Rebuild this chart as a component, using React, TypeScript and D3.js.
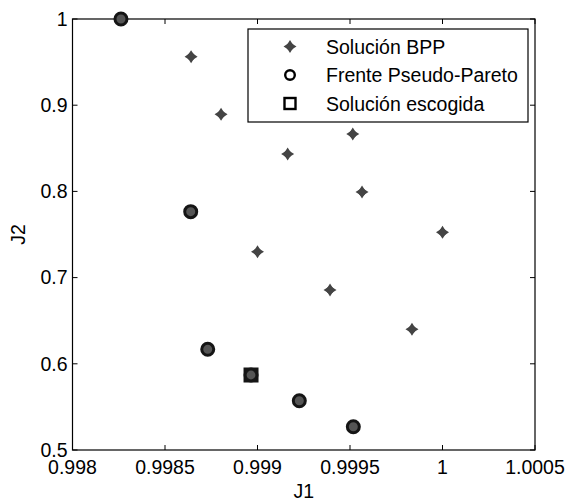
import React from "react";
import * as d3 from "d3";

// Soluciones BPP (J1, J2)
const bppJ1 = [0.998641, 0.998803, 0.999163, 0.999515, 0.999565, 1.0, 0.999, 0.999392, 0.999835];
const bppJ2 = [0.9563, 0.8894, 0.8434, 0.8666, 0.7993, 0.7525, 0.73, 0.6856, 0.64];

// Frente Pseudo-Pareto (J1, J2)
const paretoJ1 = [0.998262, 0.998639, 0.998731, 0.998965, 0.999226, 0.999518];
const paretoJ2 = [1.0, 0.7765, 0.6168, 0.587, 0.5572, 0.527];

// Solución escogida
const chosenJ1 = [0.998965];
const chosenJ2 = [0.587];

const xTicks = [0.998, 0.9985, 0.999, 0.9995, 1, 1.0005];
const yTicks = [0.5, 0.6, 0.7, 0.8, 0.9, 1];
const legendLabels = ["Solución BPP", "Frente Pseudo-Pareto", "Solución escogida"];

const W = 570;
const H = 501;
const M = { left: 72.5, right: 535, top: 19, bottom: 450 };
const FONT = "'Liberation Sans', Arial, sans-serif";
const FS = 19.5;

const x = d3.scaleLinear().domain([0.998, 1.0005]).range([M.left, M.right]);
const y = d3.scaleLinear().domain([0.5, 1]).range([M.bottom, M.top]);

const fmt = (v: number) => String(+v.toFixed(4));

// four-pointed star used for the BPP solutions
const starPath = (() => {
  const ro = 6.5;
  const ri = 3.6;
  const pts: [number, number][] = [];
  for (let i = 0; i < 8; i++) {
    const a = (Math.PI / 4) * i - Math.PI / 2;
    const r = i % 2 === 0 ? ro : ri;
    pts.push([r * Math.cos(a), r * Math.sin(a)]);
  }
  return d3.line()(pts) + "Z";
})();

const Star = ({ cx, cy }: { cx: number; cy: number }) => (
  <g transform={`translate(${cx},${cy})`}>
    <path d={starPath} fill="#444" />
    <circle r={3.6} fill="#444" />
  </g>
);

export default function App() {
  const bpp = bppJ1.map((v, i) => [v, bppJ2[i]]);
  const pareto = paretoJ1.map((v, i) => [v, paretoJ2[i]]);
  const chosen = chosenJ1.map((v, i) => [v, chosenJ2[i]]);
  const tl = 5;

  const lg = { x0: 248, y0: 29, x1: 528, y1: 122 };
  const rowY = [46.5, 75, 103.5];
  const mx = 290;
  const tx = 326;

  return (
    <svg
      width={W}
      height={H}
      style={{ position: "absolute", left: 0, top: 0, background: "#fff" }}
      fontFamily={FONT}
    >
      <rect x={0} y={0} width={W} height={H} fill="#fff" />

      {/* axes box */}
      <rect
        x={M.left}
        y={M.top}
        width={M.right - M.left}
        height={M.bottom - M.top}
        fill="none"
        stroke="#000"
        strokeWidth={1.2}
      />

      {/* x ticks (bottom and top, inward) */}
      {xTicks.map((t) => (
        <g key={"xt" + t}>
          <line x1={x(t)} x2={x(t)} y1={M.bottom} y2={M.bottom - tl} stroke="#000" />
          <line x1={x(t)} x2={x(t)} y1={M.top} y2={M.top + tl} stroke="#000" />
          <text x={x(t)} y={473.5} textAnchor="middle" fontSize={FS} fill="#000">
            {fmt(t)}
          </text>
        </g>
      ))}

      {/* y ticks (left and right, inward) */}
      {yTicks.map((t) => (
        <g key={"yt" + t}>
          <line x1={M.left} x2={M.left + tl} y1={y(t)} y2={y(t)} stroke="#000" />
          <line x1={M.right} x2={M.right - tl} y1={y(t)} y2={y(t)} stroke="#000" />
          <text
            x={M.left - 5}
            y={y(t)}
            dy="0.35em"
            textAnchor="end"
            fontSize={FS}
            fill="#000"
          >
            {fmt(t)}
          </text>
        </g>
      ))}

      {/* axis titles */}
      <text x={(M.left + M.right) / 2} y={498} textAnchor="middle" fontSize={FS} fill="#000">
        J1
      </text>
      <text
        transform={`translate(25,${(M.top + M.bottom) / 2}) rotate(-90)`}
        textAnchor="middle"
        fontSize={FS}
        fill="#000"
      >
        J2
      </text>

      {/* BPP solutions */}
      {bpp.map((d, i) => (
        <Star key={"s" + i} cx={x(d[0])} cy={y(d[1])} />
      ))}

      {/* pseudo-Pareto front */}
      {pareto.map((d, i) => (
        <circle
          key={"p" + i}
          cx={x(d[0])}
          cy={y(d[1])}
          r={6}
          fill="#555"
          stroke="#151515"
          strokeWidth={3}
        />
      ))}

      {/* chosen solution */}
      {chosen.map((d, i) => (
        <g key={"c" + i} transform={`translate(${x(d[0])},${y(d[1])})`}>
          <rect x={-6} y={-6} width={12} height={12} fill="#1a1a1a" stroke="#151515" strokeWidth={3} />
          <circle r={4.4} fill="#555" />
        </g>
      ))}

      {/* legend */}
      <rect
        x={lg.x0}
        y={lg.y0}
        width={lg.x1 - lg.x0}
        height={lg.y1 - lg.y0}
        fill="#fff"
        stroke="#000"
        strokeWidth={1.2}
      />
      <Star cx={mx} cy={rowY[0]} />
      <circle cx={mx} cy={rowY[1]} r={4.8} fill="#fff" stroke="#000" strokeWidth={2.4} />
      <rect x={mx - 5.5} y={rowY[2] - 5.5} width={11} height={11} fill="#fff" stroke="#000" strokeWidth={2.4} />
      {legendLabels.map((l, i) => (
        <text key={l} x={tx} y={rowY[i]} dy="0.36em" fontSize={FS} fill="#000">
          {l}
        </text>
      ))}
    </svg>
  );
}
